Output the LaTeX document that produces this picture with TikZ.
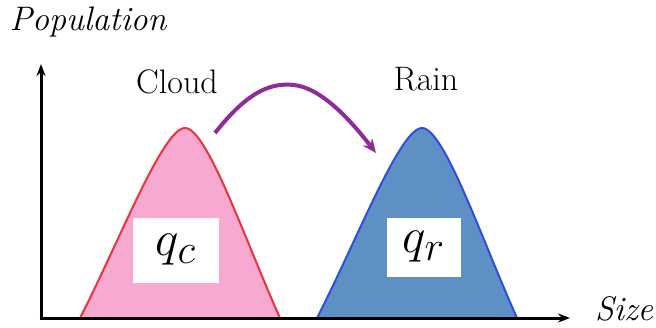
\documentclass[tikz,border=0pt]{standalone}
\usetikzlibrary{arrows.meta}

\definecolor{cloudfill}{HTML}{F8A9D2}
\definecolor{cloudline}{HTML}{E8343A}
\definecolor{rainfill}{HTML}{5E8FC5}
\definecolor{rainline}{HTML}{2D4FE0}
\definecolor{flowline}{HTML}{8E2C98}

\begin{document}
\begin{tikzpicture}[
    x=0.5pt, y=-0.5pt,
    every node/.style={font=\fontsize{17}{17}\selectfont},
    axis/.style={line width=1.5pt, black, -{Stealth[length=6pt,width=4.5pt]}},
    axislabel/.style={font=\fontsize{17}{17}\selectfont\itshape, inner sep=1pt},
    qbox/.style={
        fill=white,
        inner sep=0pt,
        anchor=center,
        font=\fontsize{30}{30}\selectfont,
    },
    bump/.style={line width=1pt},
]
\useasboundingbox (0,0) rectangle (656,327);

% Origin and axis ends
\coordinate (O) at (41,318);
\coordinate (ytop) at (41,64);
\coordinate (xend) at (570,318);

% Horizontal shift of the rain bump
\def\rshift{237}

% --- Cloud bump ---
\draw[bump, fill=cloudfill, draw=cloudline]
    (80,318) .. controls (120,240) and (163,128) .. (185,128)
    .. controls (207,128) and (245,240) .. (280,318);
\coordinate (cpeak) at (215,133);

% --- Rain bump ---
\draw[bump, fill=rainfill, draw=rainline]
    (80+\rshift,318) .. controls (120+\rshift,240) and (163+\rshift,128) .. (185+\rshift,128)
    .. controls (207+\rshift,128) and (245+\rshift,240) .. (280+\rshift,318);
\coordinate (rpeak) at (376,153);

% --- Axes ---
\draw[axis] (O) -- (ytop);
\draw[axis] ([xshift=-0.75pt]O) -- (xend);

\node[axislabel] (ylab) at (88,22) {Population};
\node[axislabel] (xlab) at (624,309) {Size};

% --- Bump labels ---
\node (cloud) at (177,82) {Cloud};
\node (rain) at (426,79) {Rain};

\node[qbox, minimum width=43pt, minimum height=32.5pt] (qc) at (176,250) {$q_c$};
\node[qbox, minimum width=37pt, minimum height=29.5pt] (qr) at (424,247) {$q_r$};

% Conversion arrow from cloud to rain
\draw[flowline, line width=2pt, -{Stealth[length=7pt,width=6pt]}]
    (cpeak) .. controls (245,95) and (268,82) .. (294,85)
    .. controls (322,88) and (352,122) .. (rpeak);

\end{tikzpicture}
\end{document}
